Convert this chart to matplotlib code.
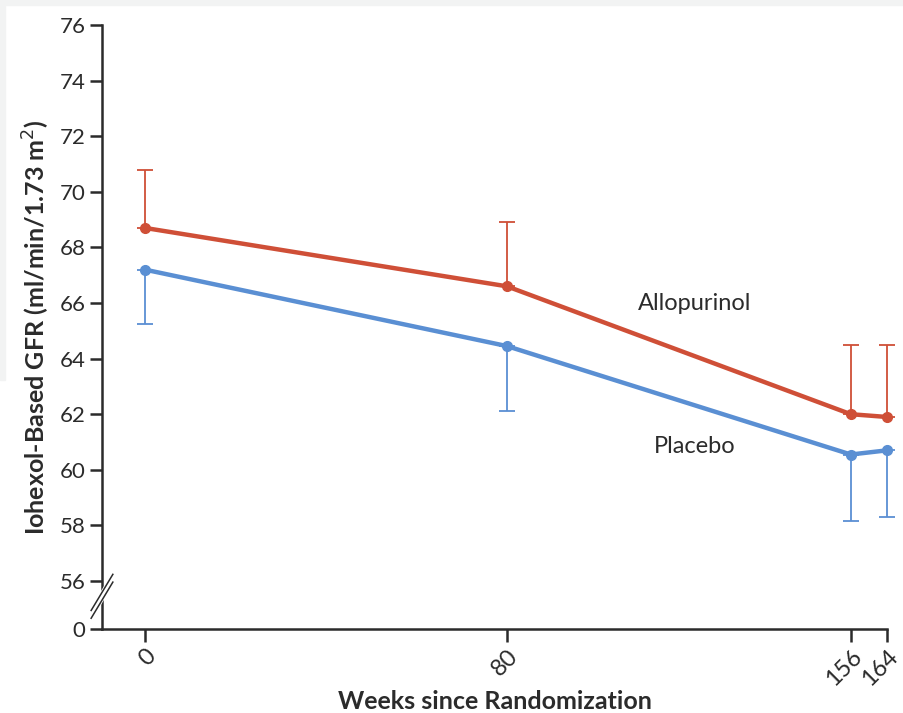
import numpy as np
import matplotlib
matplotlib.use("Agg")
import matplotlib.pyplot as plt
from matplotlib.patches import Rectangle

plt.rcParams['font.family'] = ['Lato', 'DejaVu Sans']

# data
weeks = [0, 80, 156, 164]
allo_mean = [68.7, 66.6, 62.0, 61.9]
allo_upper = [70.8, 68.9, 64.5, 64.5]
plac_mean = [67.2, 64.45, 60.55, 60.7]
plac_lower = [65.25, 62.1, 58.15, 58.3]

y_ticks = [56, 58, 60, 62, 64, 66, 68, 70, 72, 74, 76]
x_ticks = [0, 80, 156, 164]

red = '#cf4f37'
blue = '#5a8fd3'
ink = '#2b2b2b'

# axis is broken between 0 and 56; "0" sits a little below 56
zero_pos = 56 - 48 / 27.8

fig = plt.figure(figsize=(9.04, 7.13), dpi=100)
fig.patches.append(Rectangle((0, 1 - 5 / 713), 1, 5 / 713, transform=fig.transFigure,
                             color='#f2f3f3', zorder=0))
fig.patches.append(Rectangle((0, 1 - 380 / 713), 5 / 904, 380 / 713, transform=fig.transFigure,
                             color='#f2f3f3', zorder=0))

ax = fig.add_axes([102 / 904, 1 - 629 / 713, (887 - 102) / 904, (629 - 25) / 713])

allo_err = np.array(allo_upper) - np.array(allo_mean)
plac_err = np.array(plac_mean) - np.array(plac_lower)

for mean, err, col in [(allo_mean, [np.zeros(4), allo_err], red),
                       (plac_mean, [plac_err, np.zeros(4)], blue)]:
    line, caps, bars = ax.errorbar(weeks, mean, yerr=err, color=col, lw=3.2, marker='o', ms=7,
                                   ecolor=col, elinewidth=1.3, capsize=6, capthick=1.3,
                                   zorder=3)
    for art in [line] + list(caps) + list(bars):
        art.set_clip_on(False)

ax.text(109, 66.0, 'Allopurinol', fontsize=17, color=ink, ha='left', va='center')
ax.text(112.5, 60.83, 'Placebo', fontsize=17, color=ink, ha='left', va='center')

ax.set_xlim(-9.5, 164)
ax.set_ylim(zero_pos, 76)
ax.spines['top'].set_visible(False)
ax.spines['right'].set_visible(False)
for s in ['left', 'bottom']:
    ax.spines[s].set_color(ink)
    ax.spines[s].set_linewidth(1.8)

ax.set_yticks([zero_pos] + y_ticks)
ax.set_yticklabels(['0'] + [str(v) for v in y_ticks])
ax.set_xticks(x_ticks)
ax.set_xticklabels([str(v) for v in x_ticks], rotation=45, ha='right',
                   rotation_mode='anchor')
ax.tick_params(axis='both', colors=ink, labelcolor=ink, width=1.8, length=9)
ax.tick_params(axis='x', pad=3, labelsize=17)
ax.tick_params(axis='y', pad=3, labelsize=16)

# break marks on the y axis
bx = -9.5
ax.plot([bx - 1.6, bx + 1.6], [55.0, 55.9], color='white', lw=5, clip_on=False, zorder=5)
for off in (-0.14, 0.14):
    ax.plot([bx - 2.4, bx + 2.4], [54.8 + off, 56.1 + off], color=ink,
            lw=1.1, clip_on=False, zorder=6)

ax.set_ylabel('Iohexol-Based GFR (ml/min/1.73 m$^{2}$)', fontsize=18, fontweight='bold',
              color=ink, labelpad=5)
ax.set_xlabel('Weeks since Randomization', fontsize=18, fontweight='bold', color=ink,
              labelpad=0)

fig.savefig('out.png', dpi=100, facecolor='white')
